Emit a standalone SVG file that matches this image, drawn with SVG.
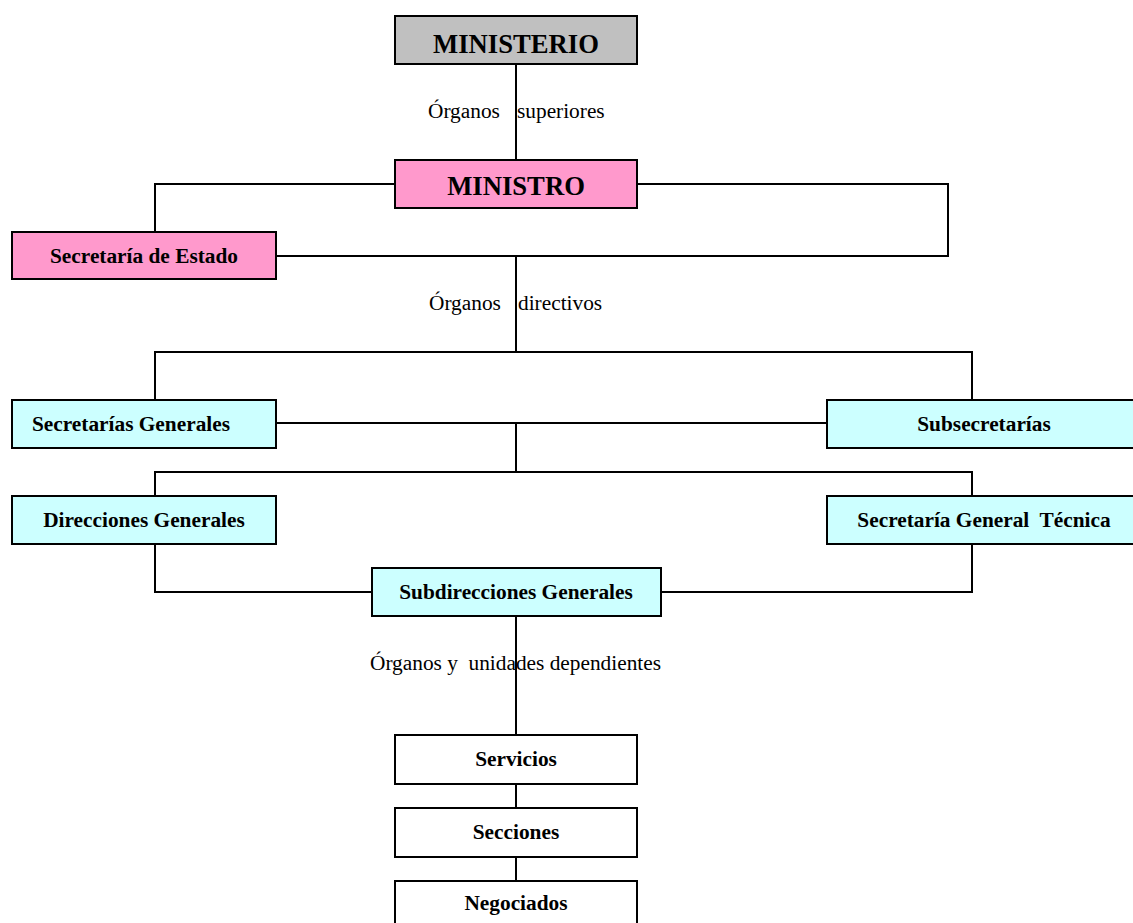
<svg xmlns="http://www.w3.org/2000/svg" width="1133" height="923" viewBox="0 0 1133 923">
<style>
.box{stroke:#000;stroke-width:2}
.grey{fill:#c0c0c0}
.pink{fill:#ff99cc}
.cyan{fill:#ccffff}
.white{fill:#fff}
.t{font-family:"Liberation Serif","Times New Roman",serif;font-weight:bold;font-size:21.33px;fill:#000;text-anchor:middle}
.big{font-size:26.67px}
.lbl{font-family:"Liberation Serif","Times New Roman",serif;font-size:21.33px;fill:#000}
.c{fill:none;stroke:#000;stroke-width:2}
</style>
<rect width="1133" height="923" fill="#fff"/>
<g id="connectors">
<path class="c" d="M516 64V160"/>
<path class="c" d="M395 184H155V232"/>
<path class="c" d="M637 184H948V256H276"/>
<path class="c" d="M516 256V352"/>
<path class="c" d="M155 400V352H972V400"/>
<path class="c" d="M276 423H827"/>
<path class="c" d="M516 423V472"/>
<path class="c" d="M155 496V472H972V496"/>
<path class="c" d="M155 544V592H372"/>
<path class="c" d="M972 544V592H661"/>
<path class="c" d="M516 616V735"/>
<path class="c" d="M516 784V808"/>
<path class="c" d="M516 857V881"/>
</g>
<g id="labels">
<text class="lbl" y="118"><tspan x="428">Órganos</tspan><tspan x="517">superiores</tspan></text>
<text class="lbl" y="310"><tspan x="429">Órganos</tspan><tspan x="518">directivos</tspan></text>
<text class="lbl" x="370" y="670" xml:space="preserve">Órganos y  unidades dependientes</text>
</g>
<g id="ministerio">
<rect class="box grey" x="395" y="16" width="242" height="48"/>
<text class="t big" x="516" y="53">MINISTERIO</text>
</g>
<g id="ministro">
<rect class="box pink" x="395" y="160" width="242" height="48"/>
<text class="t big" x="516" y="195">MINISTRO</text>
</g>
<g id="secretaria-estado">
<rect class="box pink" x="12" y="232" width="264" height="47"/>
<text class="t" x="144" y="263">Secretaría de Estado</text>
</g>
<g id="secretarias-generales">
<rect class="box cyan" x="12" y="400" width="264" height="48"/>
<text class="t" x="131" y="431">Secretarías Generales</text>
</g>
<g id="subsecretarias">
<rect class="box cyan" x="827" y="400" width="310" height="48"/>
<text class="t" x="984" y="431">Subsecretarías</text>
</g>
<g id="direcciones-generales">
<rect class="box cyan" x="12" y="496" width="264" height="48"/>
<text class="t" x="144" y="527">Direcciones Generales</text>
</g>
<g id="secretaria-general-tecnica">
<rect class="box cyan" x="827" y="496" width="310" height="48"/>
<text class="t" x="984" y="527" xml:space="preserve">Secretaría General  Técnica</text>
</g>
<g id="subdirecciones-generales">
<rect class="box cyan" x="372" y="568" width="289" height="48"/>
<text class="t" x="516" y="599">Subdirecciones Generales</text>
</g>
<g id="servicios">
<rect class="box white" x="395" y="735" width="242" height="49"/>
<text class="t" x="516" y="766">Servicios</text>
</g>
<g id="secciones">
<rect class="box white" x="395" y="808" width="242" height="49"/>
<text class="t" x="516" y="839">Secciones</text>
</g>
<g id="negociados">
<rect class="box white" x="395" y="881" width="242" height="60"/>
<text class="t" x="516" y="910">Negociados</text>
</g>
</svg>
